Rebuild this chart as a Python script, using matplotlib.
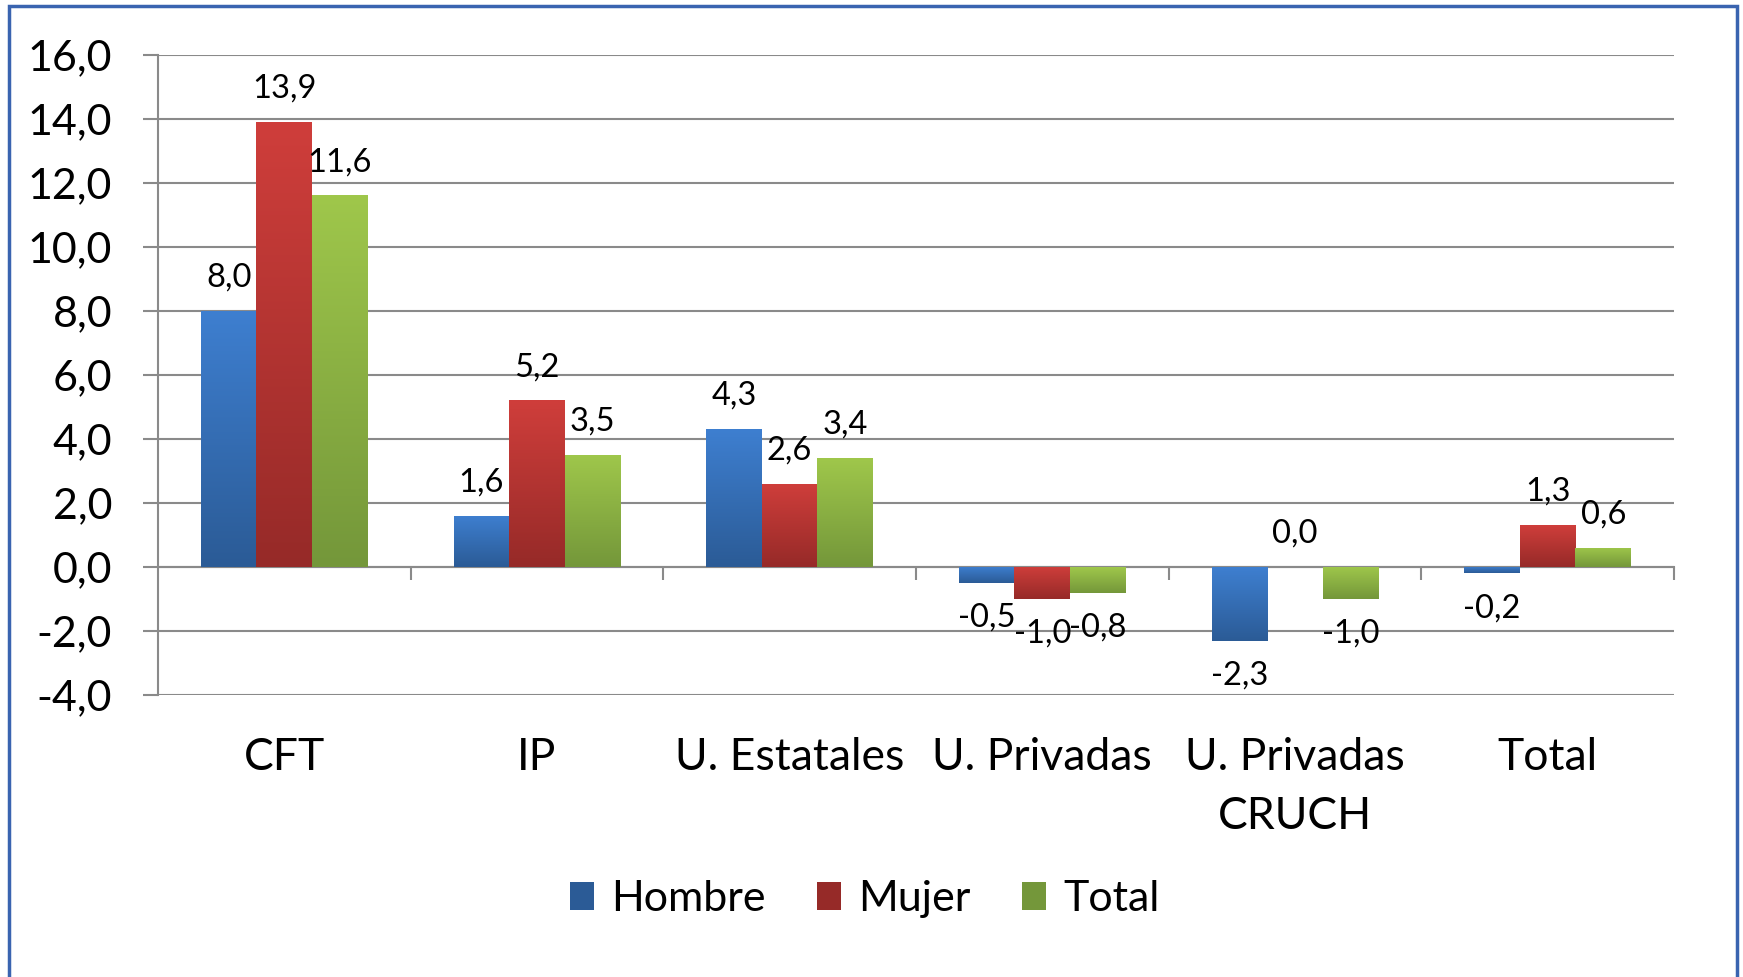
import numpy as np
import matplotlib.pyplot as plt
from matplotlib.colors import LinearSegmentedColormap
from matplotlib.patches import Rectangle

# datos
categorias = ["CFT", "IP", "U. Estatales", "U. Privadas", "U. Privadas\nCRUCH", "Total"]
series = ["Hombre", "Mujer", "Total"]
hombre = [8.0, 1.6, 4.3, -0.5, -2.3, -0.2]
mujer = [13.9, 5.2, 2.6, -1.0, 0.0, 1.3]
total = [11.6, 3.5, 3.4, -0.8, -1.0, 0.6]
ticks_y = np.arange(-4, 17, 2)

plt.rcParams['font.family'] = ['Lato', 'DejaVu Sans']

fig = plt.figure(figsize=(17.43, 9.77), dpi=100)
ax = fig.add_axes([0.0906, 0.2886, 0.8698, 0.6556])

# (arriba, abajo) para el degradado de cada serie
colores = [("#3E7FD0", "#2B5B96"), ("#CF3E3B", "#962A28"), ("#9FC74B", "#74973A")]
ancho = 0.22
x = np.arange(len(categorias))
grad = np.linspace(0, 1, 200).reshape(-1, 1)

for i, (nombre, valores, (c_top, c_bot)) in enumerate(zip(series, [hombre, mujer, total], colores)):
    pos = x + (i - 1) * ancho
    barras = ax.bar(pos, valores, ancho, color=c_bot, label=nombre, zorder=3, linewidth=0)
    cmap = LinearSegmentedColormap.from_list(nombre, [c_bot, c_top])
    for b, p, v in zip(barras, pos, valores):
        if v != 0:
            im = ax.imshow(grad, cmap=cmap, aspect='auto', origin='lower',
                           extent=[p - ancho / 2, p + ancho / 2, min(0, v), max(0, v)],
                           zorder=3.1, interpolation='bilinear')
            im.set_clip_path(b)
        etiqueta = f"{v:.1f}".replace('.', ',')
        ax.annotate(etiqueta, (p, v), xytext=(0, 24 if v >= 0 else -25),
                    textcoords='offset points', ha='center', va='center', fontsize=23.5, zorder=5)

ax.set_xlim(-0.5, len(categorias) - 0.5)
ax.set_ylim(-4, 16)
ax.set_yticks(ticks_y)
ax.set_yticklabels([f"{t:.1f}".replace('.', ',') for t in ticks_y], fontsize=31)
ax.set_xticks(np.arange(len(categorias)) + 0.5)
ax.set_xticklabels([])

gris = '#8a8a8a'
ax.yaxis.grid(True, color=gris, linewidth=1.5)
ax.set_axisbelow(True)
for s in ['top', 'right']:
    ax.spines[s].set_visible(False)
ax.spines['left'].set_color(gris)
ax.spines['left'].set_linewidth(1.5)
ax.spines['bottom'].set_position(('data', 0))
ax.spines['bottom'].set_color(gris)
ax.spines['bottom'].set_linewidth(1.5)
ax.tick_params(axis='y', length=11, width=1.5, color=gris, pad=22)
ax.tick_params(axis='x', length=9.5, width=1.5, color=gris, direction='out')

for i, cat in enumerate(categorias):
    ax.annotate(cat, xy=(i, 0), xycoords=('data', 'axes fraction'), xytext=(0, -30),
                textcoords='offset points', ha='center', va='top', fontsize=32, linespacing=1.55)

fig.legend(loc='center', bbox_to_anchor=(865 / 1743, 1 - 899 / 977), ncol=3, frameon=False,
           fontsize=31, handlelength=0.55, handleheight=0.65, handletextpad=0.4, columnspacing=1.2)

fig.patches.append(Rectangle((9 / 1743, -0.1), (1737 - 9) / 1743, 1.1 - 6 / 977,
                             transform=fig.transFigure, fill=False, edgecolor='#3A64B0', linewidth=2.5))

fig.savefig('out.png', dpi=100)
